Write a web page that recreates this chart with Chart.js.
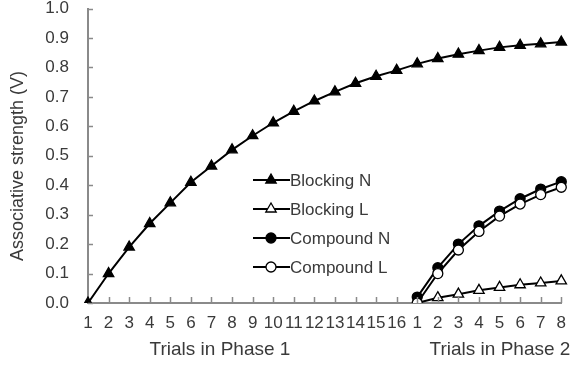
<!DOCTYPE html>
<html>
<head>
<meta charset="utf-8">
<script src="https://cdn.jsdelivr.net/npm/chart.js@4"></script>
<style>
  html, body { margin: 0; padding: 0; background: #fff; }
  #wrap { width: 576px; height: 367px; }
</style>
</head>
<body>
<div id="wrap"><canvas id="chart" width="576" height="367"></canvas></div>
<script>
// trial labels: phase 1 (16 trials) then phase 2 (8 trials)
const trialLabels = ['1','2','3','4','5','6','7','8','9','10','11','12','13','14','15','16',
                     '1','2','3','4','5','6','7','8'];
const blockingN = [0.00, 0.10, 0.19, 0.27, 0.34, 0.41, 0.465, 0.52, 0.568, 0.612, 0.651, 0.686, 0.717, 0.746, 0.770, 0.790,
                   0.812, 0.830, 0.845, 0.857, 0.868, 0.875, 0.880, 0.886];
const blockingL = [null, null, null, null, null, null, null, null, null, null, null, null, null, null, null, null,
                   0.00, 0.018, 0.030, 0.043, 0.053, 0.062, 0.068, 0.075];
const compoundN = [null, null, null, null, null, null, null, null, null, null, null, null, null, null, null, null,
                   0.02, 0.12, 0.20, 0.262, 0.312, 0.354, 0.387, 0.412];
const compoundL = [null, null, null, null, null, null, null, null, null, null, null, null, null, null, null, null,
                   0.00, 0.10, 0.18, 0.243, 0.295, 0.336, 0.368, 0.393];
const seriesNames = ['Blocking N', 'Blocking L', 'Compound N', 'Compound L'];
const yTicks = [0, 0.1, 0.2, 0.3, 0.4, 0.5, 0.6, 0.7, 0.8, 0.9, 1.0];

const FONT = '"Liberation Sans", Arial, sans-serif';
const TXT = '#3a3a3a';
const AXIS = '#8a8a8a';

function mkSet(i, data, style, fill, radius) {
  return {
    label: seriesNames[i],
    data: data,
    borderColor: '#000',
    borderWidth: 2,
    pointStyle: style,
    pointRadius: radius,
    pointBackgroundColor: fill,
    pointBorderColor: '#000',
    pointBorderWidth: 1.3,
    tension: 0,
    spanGaps: false,
    order: 3 - i
  };
}

// inside tick marks, extra axis titles and the legend
const decor = {
  id: 'decor',
  afterDatasetsDraw(chart) {
    const ctx = chart.ctx;
    const xs = chart.scales.x, ys = chart.scales.y;
    const a = chart.chartArea;
    ctx.save();
    ctx.strokeStyle = AXIS;
    ctx.lineWidth = 1.5;
    ctx.beginPath();
    yTicks.forEach(v => {
      const y = Math.round(ys.getPixelForValue(v)) + 0.5;
      ctx.moveTo(a.left, y); ctx.lineTo(a.left + 5, y);
    });
    for (let i = 1; i < trialLabels.length; i++) {
      const x = Math.round(xs.getPixelForValue(i)) + 0.5;
      ctx.moveTo(x, a.bottom); ctx.lineTo(x, a.bottom - 6);
    }
    ctx.stroke();

    ctx.fillStyle = TXT;
    ctx.font = '19px ' + FONT;
    ctx.textAlign = 'center';
    ctx.textBaseline = 'middle';
    ctx.fillText('Trials in Phase 1', 220, 350);
    ctx.fillText('Trials in Phase 2', 500, 350);

    ctx.save();
    ctx.translate(18, 166);
    ctx.rotate(-Math.PI / 2);
    ctx.font = '18px ' + FONT;
    ctx.fillText('Associative strength (V)', 0, 0);
    ctx.restore();

    // legend
    const rows = [180, 209, 238, 267];
    chart.data.datasets.forEach((ds, i) => {
      const y = rows[i];
      ctx.strokeStyle = '#000';
      ctx.lineWidth = 2;
      ctx.beginPath();
      ctx.moveTo(253, y); ctx.lineTo(290, y);
      ctx.stroke();
      ctx.fillStyle = ds.pointBackgroundColor;
      ctx.strokeStyle = '#000';
      ctx.lineWidth = 1.3;
      Chart.helpers.drawPoint(ctx, { pointStyle: ds.pointStyle, radius: ds.pointRadius, borderWidth: 1.3 }, 271, y);
      ctx.fillStyle = TXT;
      ctx.font = '17px ' + FONT;
      ctx.textAlign = 'left';
      ctx.fillText(ds.label, 290, y + 1);
    });
    ctx.restore();
  }
};

new Chart(document.getElementById('chart'), {
  type: 'line',
  data: {
    labels: trialLabels,
    datasets: [
      mkSet(0, blockingN, 'triangle', '#000', 6),
      mkSet(1, blockingL, 'triangle', '#fff', 6),
      mkSet(2, compoundN, 'circle', '#000', 5),
      mkSet(3, compoundL, 'circle', '#fff', 5)
    ]
  },
  options: {
    responsive: false,
    animation: false,
    layout: { padding: { top: 0, right: 12, left: 0, bottom: 0 } },
    plugins: {
      legend: { display: false },
      tooltip: { enabled: false }
    },
    scales: {
      x: {
        offset: false,
        grid: { display: false, drawTicks: false },
        border: { display: true, color: AXIS, width: 2 },
        ticks: { color: TXT, font: { family: FONT, size: 17 }, padding: 10, maxRotation: 0, autoSkip: false },
        afterFit(s) { s.height = 64; }
      },
      y: {
        min: 0, max: 1,
        grid: { display: false, drawTicks: true, tickLength: 19 },
        border: { display: true, color: AXIS, width: 2 },
        afterBuildTicks(s) { s.ticks = yTicks.map(v => ({ value: v })); },
        ticks: {
          color: TXT, font: { family: FONT, size: 17, lineHeight: 1 }, padding: 0,
          callback: v => v.toFixed(1)
        },
        afterFit(s) { s.width = 88; }
      }
    }
  },
  plugins: [decor]
});
</script>
</body>
</html>
